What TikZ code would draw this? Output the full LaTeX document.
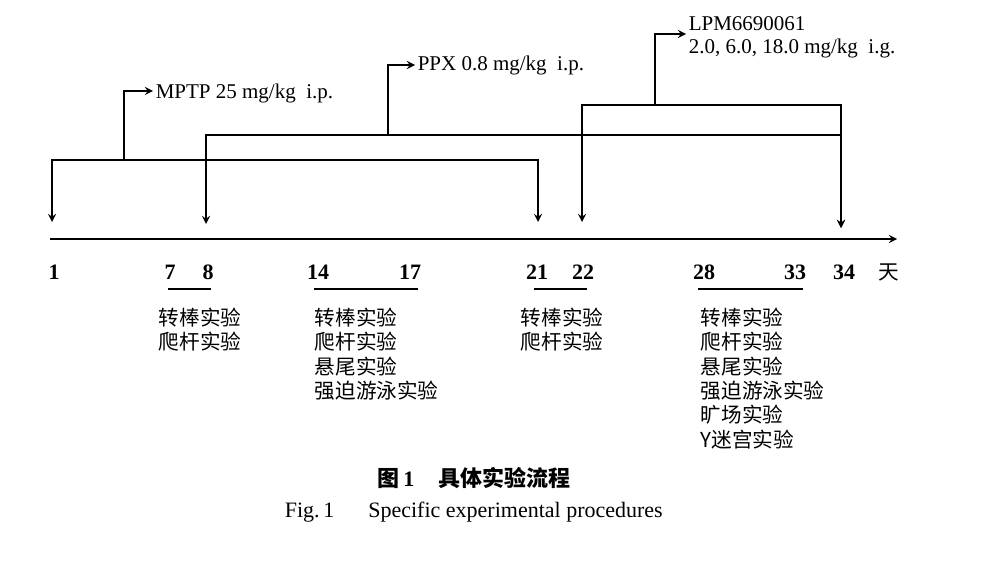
\documentclass[tikz,border=0pt]{standalone}
\usepackage{fontspec}
\setmainfont{Liberation Serif}
\newfontfamily\cjk{Noto Sans CJK SC}
\tikzset{
  day/.style={font=\fontsize{11}{13}\selectfont\bfseries},
  tests/.style={anchor=north west, align=left, inner sep=0pt,
    font=\cjk\fontsize{10.3}{12.2}\selectfont},
  drug/.style={anchor=west, align=left, inner sep=1pt,
    font=\fontsize{10.5}{11.5}\selectfont},
  period/.style={line width=1.4pt}
}
\begin{document}
\begin{tikzpicture}[x=0.5pt, y=-0.5pt, >=stealth, line width=0.8pt]
  \useasboundingbox (0,0) rectangle (1000,561);

  % time axis
  \coordinate (ax0) at (50,239);
  \coordinate (ax1) at (897,239);
  \draw[->] (ax0) -- (ax1);

  % arrow tips on the axis
  \coordinate (t1) at (52,222);
  \coordinate (t8) at (206,224);
  \coordinate (t21) at (538,222);
  \coordinate (t22) at (582,222);
  \coordinate (t34) at (841,228);

  % drugs
  \node[drug] (mptp) at (153,93) {MPTP 25 mg/kg\ \ i.p.};
  \node[drug] (ppx) at (415,65) {PPX 0.8 mg/kg\ \ i.p.};
  \node[drug] (lpm) at (686,37) {LPM6690061\\2.0, 6.0, 18.0 mg/kg\ \ i.g.};

  \coordinate (busA) at (124,160);
  \coordinate (busB) at (388,135);
  \coordinate (busC) at (655,105);

  \draw[->] (busA) |- ([yshift=1pt]mptp.west);
  \draw[->] (busA) -| (t1);
  \draw[->] (busA) -| (t21);

  \draw[->] (busB) |- (ppx.west);
  \draw[->] (busB) -| (t8);
  \draw[->] (busB) -| (t34);

  \draw[->] (busC) |- ([yshift=1.5pt]lpm.west);
  \draw[->] (busC) -| (t22);
  \draw[->] (busC) -| (t34);

  % days
  \node[day] (n1) at (54,272) {1};
  \node[day] (n7) at (170,272) {7};
  \node[day] (n8) at (208,272) {8};
  \node[day] (n14) at (318,272) {14};
  \node[day] (n17) at (410,272) {17};
  \node[day] (n21) at (537,272) {21};
  \node[day] (n22) at (583,272) {22};
  \node[day] (n28) at (704,272) {28};
  \node[day] (n33) at (795,272) {33};
  \node[day] (n34) at (844,272) {34};
  \node[font=\cjk\fontsize{10.3}{12}\selectfont] (unit) at (889,272) {天};

  \draw[period] (168,289) -- (211,289);
  \draw[period] (314,289) -- (418,289);
  \draw[period] (534,289) -- (587,289);
  \draw[period] (698,289) -- (803,289);

  % behaviour tests
  \node[tests] (b1) at (158,307) {转棒实验\\爬杆实验};
  \node[tests] (b2) at (314,307) {转棒实验\\爬杆实验\\悬尾实验\\强迫游泳实验};
  \node[tests] (b3) at (520,307) {转棒实验\\爬杆实验};
  \node[tests] (b4) at (700,307) {转棒实验\\爬杆实验\\悬尾实验\\强迫游泳实验\\旷场实验\\Y迷宫实验};

  % caption
  \node[anchor=west, inner sep=0pt, font=\fontsize{11}{13}\selectfont] (cap1) at (377,478)
    {{\cjk\bfseries 图}\,\textbf{1}\hspace{12pt}{\cjk\bfseries 具体实验流程}};
  \node[anchor=west, inner sep=0pt, font=\fontsize{11}{13}\selectfont] (cap2) at (284,512)
    {Fig.\,1\hspace{17pt}Specific experimental procedures};
\end{tikzpicture}
\end{document}
